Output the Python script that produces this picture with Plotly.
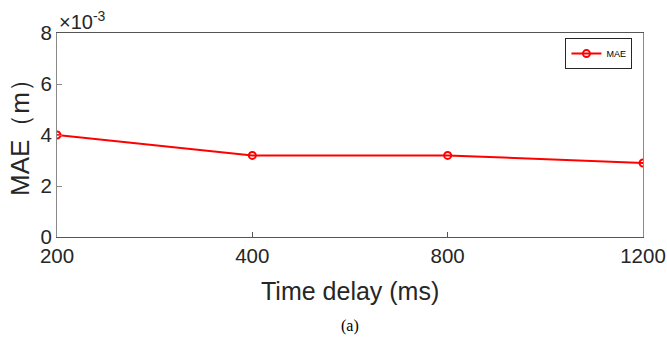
import plotly.graph_objects as go

categories = ["200", "400", "800", "1200"]
mae_values = [0.0040, 0.0032, 0.0032, 0.0029]
y_tick_vals = [0, 0.002, 0.004, 0.006, 0.008]
y_tick_text = ["0", "2", "4", "6", "8"]

FONT = "Liberation Sans, Arial"
fig = go.Figure()
fig.add_trace(go.Scatter(
    x=[0, 1, 2, 3], y=mae_values, mode="lines+markers", name="MAE",
    line=dict(color="#ff0000", width=2),
    marker=dict(symbol="circle-open", size=7, color="#ff0000", line=dict(width=2)),
))

axis_common = dict(showline=True, mirror=True, linewidth=1.2, automargin=False,
                   ticks="inside", ticklen=5, showgrid=False, ticklabeloverflow="allow",
                   zeroline=False, tickfont=dict(family=FONT, size=20.5, color="#262626"))

fig.update_layout(
    width=667, height=347,
    margin=dict(l=57, r=24, t=33, b=110),
    paper_bgcolor="white", plot_bgcolor="white",
    xaxis=dict(range=[0, 3], tickvals=[0, 1, 2, 3], ticktext=categories,
               linecolor="#555555", tickcolor="#555555", **axis_common),
    yaxis=dict(range=[0, 0.008], tickvals=y_tick_vals, ticktext=y_tick_text,
               linecolor="#8a8a8a", tickcolor="#8a8a8a", **axis_common),
    showlegend=True,
    legend=dict(x=0.982, y=0.975, xanchor="right", yanchor="top",
                bordercolor="#262626", borderwidth=1, bgcolor="white",
                font=dict(family=FONT, size=9, color="#000000"),
                itemwidth=30, tracegroupgap=0),
    annotations=[
        dict(text="×10<sup>-3</sup>", x=0, y=1, xref="paper", yref="paper",
             xanchor="left", yanchor="bottom", showarrow=False,
             font=dict(family=FONT, size=20, color="#262626"), yshift=-2),
        dict(text="Time delay (ms)", x=0.5, y=0, xref="paper", yref="paper",
             xanchor="center", yanchor="middle", showarrow=False, yshift=-54,
             font=dict(family=FONT, size=25, color="#262626")),
        dict(text="MAE（m）", x=0, y=0.5, xref="paper", yref="paper", textangle=-90,
             xanchor="center", yanchor="middle", showarrow=False, xshift=-37, yshift=4,
             font=dict(family=FONT, size=26, color="#262626")),
        dict(text="(a)", x=0.5, y=0, xref="paper", yref="paper", xanchor="center", yanchor="top",
             showarrow=False, yshift=-78,
             font=dict(family="Liberation Serif, Times New Roman", size=16, color="#000000")),
    ],
)

# remove the default 8px body margin so the figure fills the window exactly
fig.write_html("out.html", config={"displayModeBar": False},
               post_script="document.body.style.margin='0';document.body.style.overflow='hidden';")
